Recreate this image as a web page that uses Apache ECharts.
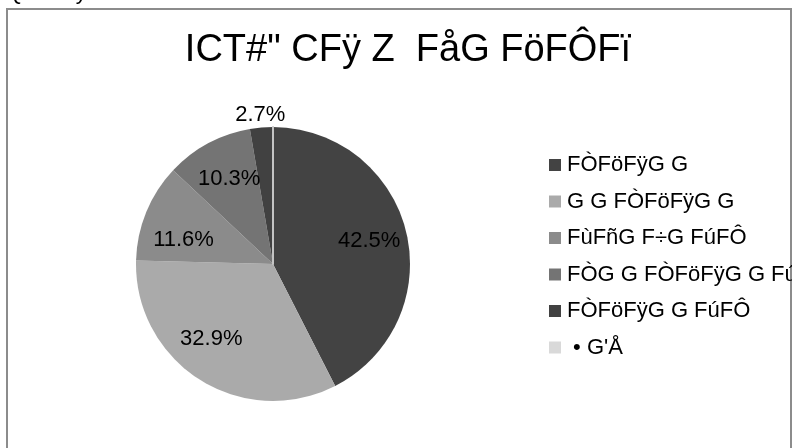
<!DOCTYPE html>
<html>
<head>
<meta charset="utf-8">
<script src="https://cdn.jsdelivr.net/npm/echarts@6/dist/echarts.min.js"></script>
<style>
  html, body { margin: 0; padding: 0; background: #ffffff; }
  #chart { width: 792px; height: 448px; }
</style>
</head>
<body>
<div id="chart"></div>
<script>
// Category names, shares (%) and slice colours
const categories = ['FÒFöFÿG G', 'G G FÒFöFÿG G', 'FùFñG F÷G FúFÔ', 'FÒG G FÒFöFÿG G FúFÔ', 'FÒFöFÿG G FúFÔ', ' • G\'Å'];
const shares = [42.5, 32.9, 11.6, 10.3, 2.7, 0];
const sliceColors = ['#434343', '#aaaaaa', '#8b8b8b', '#747474', '#414141', '#d9d9d9'];
// where each percentage label sits: inside the slice, just outside the rim, or hidden
const labelPlacement = ['inner', 'inner', 'inner', 'inner', 'outer', 'none'];
// small [dx, dy] nudges applied to a few of the labels
const labelNudge = [[0, 0], [-9, -9], [2, 13], [3, 2], [0, 0], [0, 0]];

const titleText = 'ICT#" CFÿ Z  FåG FöFÔFï';
const headerText = 'IQB:ö.Fÿ Z FåG FöFÔFï';

const FONT = '"Liberation Sans", Arial, sans-serif';
const CENTER = [273, 264];
const R = 137;

const chart = echarts.init(document.getElementById('chart'), null, { renderer: 'canvas' });

function pct(p) { return p.value.toFixed(1) + '%'; }

const mainData = categories.map((name, i) => ({
  name: name,
  value: shares[i],
  itemStyle: shares[i] === 0
    ? { color: sliceColors[i], borderColor: '#c4c4c4', borderWidth: 2 }
    : { color: sliceColors[i] }
}));

function labelData(kind) {
  return categories.map((name, i) => ({
    name: name,
    value: shares[i],
    label: { show: labelPlacement[i] === kind }
  }));
}

const labelStyle = {
  position: 'inside',
  formatter: pct,
  color: '#000000',
  fontSize: 22,
  fontFamily: FONT
};

function nudge(params) {
  const n = labelNudge[params.dataIndex] || [0, 0];
  return { dx: n[0], dy: n[1] };
}

chart.setOption({
  animation: false,
  backgroundColor: '#ffffff',
  graphic: [
    {
      type: 'rect',
      z: 0,
      silent: true,
      shape: { x: 7, y: 9, width: 784, height: 480 },
      style: { fill: 'none', stroke: '#8c8c8c', lineWidth: 2 }
    },
    {
      type: 'text',
      silent: true,
      style: {
        text: headerText, x: 0, y: 4,
        align: 'left', verticalAlign: 'bottom',
        font: '22px ' + FONT, fill: '#000000'
      }
    },
    {
      type: 'text',
      silent: true,
      style: {
        text: titleText, x: 408, y: 51,
        align: 'center', verticalAlign: 'middle',
        font: '38px ' + FONT, fill: '#000000'
      }
    }
  ],
  legend: {
    orient: 'vertical',
    left: 544,
    top: 149,
    itemWidth: 12,
    itemHeight: 12,
    itemGap: 14.5,
    icon: 'rect',
    selectedMode: false,
    data: categories,
    itemStyle: { borderWidth: 0 },
    textStyle: { fontSize: 22, fontFamily: FONT, color: '#000000', padding: [0, 0, 0, 1] }
  },
  series: [
    {
      name: 'main',
      type: 'pie',
      center: CENTER,
      radius: [0, R],
      startAngle: 90,
      clockwise: true,
      minAngle: 0,
      avoidLabelOverlap: false,
      label: { show: false },
      labelLine: { show: false },
      emphasis: { disabled: true },
      data: mainData
    },
    {
      // transparent twin carrying the in-slice labels at ~0.7 R
      name: 'labels-inner',
      type: 'pie',
      silent: true,
      center: CENTER,
      radius: [0, R * 1.4],
      startAngle: 90,
      clockwise: true,
      avoidLabelOverlap: false,
      itemStyle: { color: 'rgba(0,0,0,0)' },
      label: labelStyle,
      labelLine: { show: false },
      labelLayout: nudge,
      emphasis: { disabled: true },
      data: labelData('inner')
    },
    {
      // transparent twin carrying the label just beyond the rim
      name: 'labels-outer',
      type: 'pie',
      silent: true,
      center: CENTER,
      radius: [R * 0.95, R * 1.19],
      startAngle: 90,
      clockwise: true,
      avoidLabelOverlap: false,
      itemStyle: { color: 'rgba(0,0,0,0)' },
      label: labelStyle,
      labelLine: { show: false },
      emphasis: { disabled: true },
      data: labelData('outer')
    }
  ]
});
</script>
</body>
</html>
